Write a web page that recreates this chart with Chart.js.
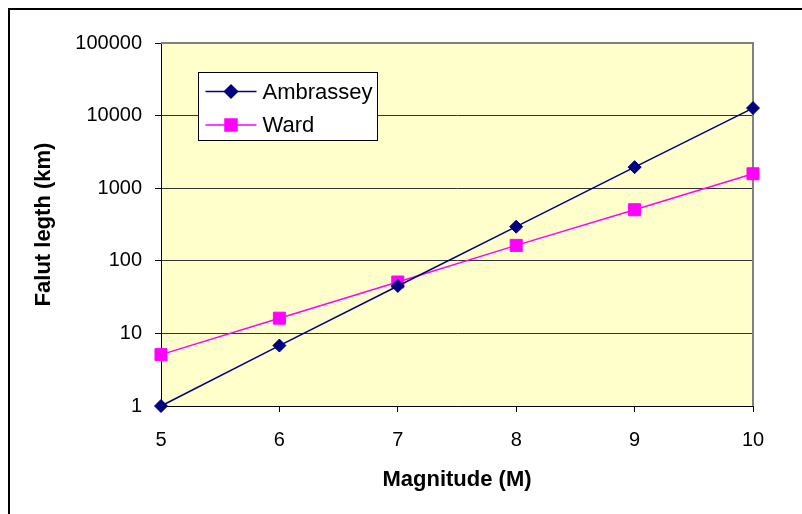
<!DOCTYPE html>
<html>
<head>
<meta charset="utf-8">
<title>Falut legth vs Magnitude</title>
<script src="https://cdn.jsdelivr.net/npm/chart.js@4/dist/chart.umd.min.js"></script>
<style>
  html, body { margin: 0; padding: 0; background: #fff; overflow: hidden; }
  #wrap { position: relative; width: 802px; height: 514px; }
  #frame { position: absolute; left: 8px; top: 8px; width: 900px; height: 600px;
           border-left: 2px solid #000; border-top: 2px solid #000; }
  #holder { position: absolute; left: 0; top: 0; width: 802px; height: 514px; }
</style>
</head>
<body>
<div id="wrap">
  <div id="frame"></div>
  <div id="holder"><canvas id="chart"></canvas></div>
</div>
<script>
// data
const magnitudes = ['5', '6', '7', '8', '9', '10'];
const ambrassey  = [1, 6.8, 45, 295, 1950, 12700];
const ward       = [5.1, 16.2, 51, 163, 505, 1580];
const yTicks     = [1, 10, 100, 1000, 10000, 100000];

const FONT = "Arial, 'Liberation Sans', sans-serif";
const NAVY = '#000080';
const MAGENTA = '#FF00FF';

// ── plot area fill + border ─────────────────────────────────────────────────
const plotArea = {
  id: 'plotArea',
  beforeDraw(chart) {
    const { ctx, chartArea: a } = chart;
    ctx.save();
    ctx.fillStyle = '#FFFFCC';
    ctx.fillRect(a.left, a.top, a.right - a.left, a.bottom - a.top);
    ctx.restore();
  },
  beforeDatasetsDraw(chart) {
    const { ctx, chartArea: a } = chart;
    ctx.save();
    ctx.strokeStyle = '#808080';
    ctx.lineWidth = 2;
    ctx.beginPath();
    ctx.moveTo(a.left, a.top);
    ctx.lineTo(a.right, a.top);
    ctx.lineTo(a.right, a.bottom);
    ctx.stroke();
    ctx.restore();
  }
};

// ── legend box inside the plot ──────────────────────────────────────────────
const boxLegend = {
  id: 'boxLegend',
  afterDraw(chart) {
    const { ctx, chartArea: a } = chart;
    const x0 = a.left + 37.5, y0 = a.top + 29.5, w = 179, h = 68;
    ctx.save();
    ctx.fillStyle = '#fff';
    ctx.fillRect(x0, y0, w, h);
    ctx.strokeStyle = '#000';
    ctx.lineWidth = 1;
    ctx.strokeRect(x0, y0, w, h);

    chart.data.datasets.forEach((ds, i) => {
      const y = y0 + 19 + i * 33.5;
      ctx.strokeStyle = ds.borderColor;
      ctx.lineWidth = ds.borderWidth;
      ctx.beginPath();
      ctx.moveTo(x0 + 7, y);
      ctx.lineTo(x0 + 58, y);
      ctx.stroke();
      ctx.fillStyle = ds.pointBackgroundColor;
      ctx.strokeStyle = ds.pointBorderColor;
      Chart.helpers.drawPoint(ctx, {
        pointStyle: ds.pointStyle, radius: ds.pointRadius, rotation: 0, borderWidth: 1
      }, x0 + 32.5, y);
      ctx.fillStyle = '#000';
      ctx.font = '22px ' + FONT;
      ctx.textBaseline = 'middle';
      ctx.textAlign = 'left';
      ctx.fillText(ds.label, x0 + 64, y + 1);
    });
    ctx.restore();
  }
};

new Chart(document.getElementById('chart').getContext('2d'), {
  type: 'line',
  data: {
    labels: magnitudes,
    datasets: [
      {
        label: 'Ambrassey', data: ambrassey,
        borderColor: NAVY, borderWidth: 1.5,
        pointStyle: 'rectRot', pointRadius: 6.5,
        pointBackgroundColor: NAVY, pointBorderColor: NAVY, pointBorderWidth: 1,
        tension: 0, clip: false
      },
      {
        label: 'Ward', data: ward,
        borderColor: MAGENTA, borderWidth: 1.5,
        pointStyle: 'rect', pointRadius: 8.5,
        pointBackgroundColor: MAGENTA, pointBorderColor: MAGENTA, pointBorderWidth: 1,
        tension: 0, clip: false
      }
    ]
  },
  options: {
    responsive: true,
    maintainAspectRatio: false,
    animation: false,
    layout: { padding: { top: 43, right: 49, left: 0, bottom: 0 } },
    plugins: { legend: { display: false }, tooltip: { enabled: false } },
    scales: {
      x: {
        type: 'category',
        offset: false,
        afterFit: s => { s.height = 108; },
        border: { display: true, color: '#000', width: 1 },
        grid: { drawOnChartArea: false, drawTicks: true, tickLength: 6, tickColor: '#000' },
        ticks: { color: '#000', font: { family: FONT, size: 20 }, padding: 16, maxRotation: 0 },
        title: {
          display: true, text: 'Magnitude (M)', color: '#000',
          font: { family: FONT, size: 22, weight: 'bold' },
          padding: { top: 0, bottom: 21 }
        }
      },
      y: {
        type: 'logarithmic',
        min: 1, max: 100000,
        afterFit: s => { s.width = 161; },
        afterBuildTicks: s => { s.ticks = yTicks.map(v => ({ value: v })); },
        border: { display: true, color: '#000', width: 1 },
        grid: {
          color: c => (c.tick && c.tick.value === 100000 ? '#808080' : '#333'),
          lineWidth: 1, drawTicks: true, tickLength: 6, tickColor: '#000'
        },
        ticks: {
          color: '#000', font: { family: FONT, size: 20 }, padding: 13,
          callback: v => String(v)
        },
        title: {
          display: true, text: 'Falut legth (km)', color: '#000',
          font: { family: FONT, size: 22, weight: 'bold' },
          padding: { top: 31, bottom: 0 }
        }
      }
    }
  },
  plugins: [plotArea, boxLegend]
});
</script>
</body>
</html>
